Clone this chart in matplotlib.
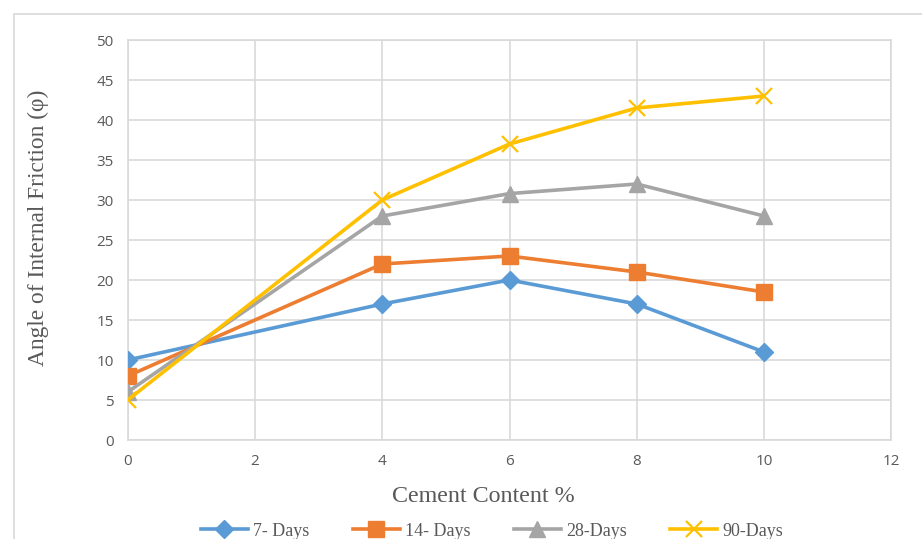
import matplotlib
matplotlib.use("Agg")
import matplotlib.pyplot as plt
from matplotlib.patches import Rectangle

cement = [0, 4, 6, 8, 10]
days7 = [10, 17, 20, 17, 11]
days14 = [8, 22, 23, 21, 18.5]
days28 = [6, 28, 30.8, 32, 28]
days90 = [5, 30, 37, 41.5, 43]
labels = ["7- Days", "14- Days", "28-Days", "90-Days"]
colors = ["#5B9BD5", "#ED7D31", "#A5A5A5", "#FFC000"]
markers = ["D", "s", "^", "x"]
msizes = [9.5, 11.5, 11.5, 11.5]

W, H = 922, 539
fig = plt.figure(figsize=(W / 100, H / 100), dpi=100)
fig.patch.set_facecolor("white")

# outer chart frame
fig.patches.append(Rectangle((14 / W, -0.2), 1.2, 1.2 - 14 / H, transform=fig.transFigure,
                             fill=False, edgecolor="#d9d9d9", linewidth=1.2, zorder=0))

ax = fig.add_axes([127.7 / W, 1 - 440 / H, (891.3 - 127.7) / W, (440 - 40) / H])
series = [days7, days14, days28, days90]
handles = []
for vals, lab, c, m, ms in zip(series, labels, colors, markers, msizes):
    if m == "x":
        h, = ax.plot(cement, vals, color=c, lw=2.6, marker=m, ms=ms, mew=1.6, label=lab, zorder=3)
    else:
        h, = ax.plot(cement, vals, color=c, lw=2.6, marker=m, ms=ms, mec=c, mfc=c, label=lab, zorder=3)
    handles.append(h)

ax.set_xlim(0, 12)
ax.set_ylim(0, 50)
ax.set_xticks(range(0, 13, 2))
ax.set_yticks(range(0, 51, 5))
ax.grid(True, color="#d9d9d9", lw=1.2)
ax.set_axisbelow(True)
for s in ax.spines.values():
    s.set_color("#d9d9d9")
    s.set_linewidth(1.2)
ax.tick_params(length=0, labelsize=11, labelcolor="#595959", pad=10)
for t in ax.get_xticklabels() + ax.get_yticklabels():
    t.set_fontfamily("Open Sans")

fig.text(483 / W, 1 - 496 / H, "Cement Content %", ha="center", va="center",
         fontsize=17.3, family="Liberation Serif", color="#595959")
fig.text(38 / W, 1 - 228 / H, "Angle of Internal Friction (\u03c6)", ha="center", va="center",
         rotation=90, fontsize=16.8, family="Liberation Serif", color="#595959")

leg = fig.legend(handles=handles, loc="center", bbox_to_anchor=(492 / W, 1 - 531 / H), ncol=4,
                 frameon=False, handlelength=2.6, columnspacing=2.4, handletextpad=0.3,
                 prop={"family": "Liberation Serif", "size": 13})
for t in leg.get_texts():
    t.set_color("#595959")

fig.savefig("out.png", dpi=100)
